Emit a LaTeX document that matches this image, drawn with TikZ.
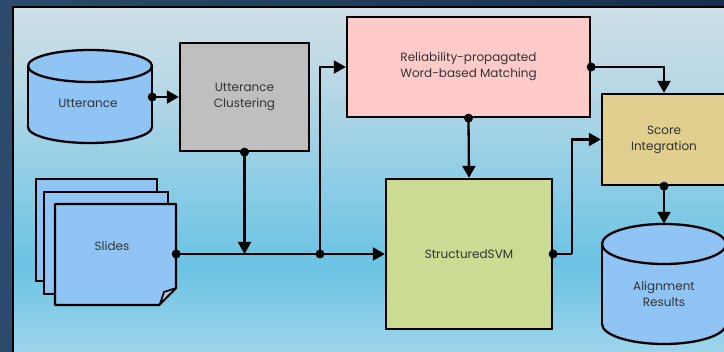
\documentclass[tikz,border=0pt]{standalone}
\usepackage{fontspec}
\setmainfont{Poppins}
\usetikzlibrary{arrows.meta}

\definecolor{framel}{HTML}{2C4A6B}
\definecolor{framer}{HTML}{172E4E}
\definecolor{paneltop}{HTML}{CFDFE7}
\definecolor{panelup}{HTML}{B3D6E5}
\definecolor{panelmid}{HTML}{8DCDE6}
\definecolor{panelblue}{HTML}{6BC3E3}
\definecolor{panelbot}{HTML}{A0D5EC}
\definecolor{docblue}{HTML}{90C4F4}
\definecolor{foldgray}{HTML}{A9C3D6}
\definecolor{clugray}{HTML}{BFBFBF}
\definecolor{relpink}{HTML}{FFCACA}
\definecolor{svmgreen}{HTML}{CCDB94}
\definecolor{scotan}{HTML}{E0CF8E}
\definecolor{txt}{HTML}{333333}

% vertical gradient of the inner panel (path is mapped onto 25bp..75bp)
\pgfdeclareverticalshading{panelshade}{100bp}{%
  color(0bp)=(panelbot); color(25bp)=(panelbot); color(38bp)=(panelblue);
  color(50bp)=(panelmid); color(62bp)=(panelup); color(75bp)=(paneltop);
  color(100bp)=(paneltop)}

\tikzset{
  lw/.style={line width=2.3pt},
  procbox/.style={lw, draw=black, rectangle, inner sep=0pt, align=center,
    text=txt, font=\fontsize{12}{16}\selectfont},
  frame/.style={inner sep=0pt, rectangle},
  lbl/.style={text=txt, align=center, font=\fontsize{12}{16}\selectfont},
  flow/.style={lw, draw=black, -{Triangle[length=12pt,width=13pt]}},
  link/.style={lw, draw=black},
  dot/.style={fill=black},
}

\newcommand{\cylshape}[5]{% cx, top ellipse cy, bottom ellipse cy, rx, ry
  \filldraw[lw, fill=docblue] (#1,#3) ellipse [x radius=#4, y radius=#5];
  \fill[docblue] (#1-#4,#2) rectangle (#1+#4,#3);
  \draw[lw] (#1-#4,#2) -- (#1-#4,#3) (#1+#4,#2) -- (#1+#4,#3);
  \filldraw[lw, fill=docblue] (#1,#2) ellipse [x radius=#4, y radius=#5];
}

\begin{document}
\begin{tikzpicture}[x=1pt, y=-1pt]
  \useasboundingbox (0,0) rectangle (724,352);
  \begin{scope}
    \clip (0,0) rectangle (724,352);
    % outer frame and inner panel
    \fill[left color=framel, right color=framer] (0,0) rectangle (724,352);
    \path[shading=panelshade, draw=black, line width=2pt] (13,7) rectangle (740,356);

    % Utterance cylinder
    \cylshape{90}{66}{127}{62}{16}
    \node[frame, minimum width=124pt, minimum height=94pt] (utt) at (90,97) {};
    \node[lbl] (utttext) at (88,103) {Utterance};

    % Slides: stacked pages with folded corner
    \filldraw[lw, fill=docblue] (36,179) rectangle (157,281);
    \filldraw[lw, fill=docblue] (44,192) rectangle (168,294);
    \filldraw[lw, fill=docblue, line join=round]
      (55,204) -- (176,204) -- (176,288) -- (159,305) -- (55,305) -- cycle;
    \filldraw[line width=1.6pt, fill=foldgray, line join=round]
      (176,288) -- (164,292) -- (160,304) -- cycle;
    \node[frame, minimum width=121pt, minimum height=100pt] (sl) at (115.5,254) {};
    \node[lbl] (sltext) at (112,246) {Slides};

    % processing boxes
    \node[procbox, fill=clugray, minimum width=129pt, minimum height=108pt]
      (clu) at (244.5,97) {Utterance\\Clustering};
    \node[procbox, fill=relpink, minimum width=243pt, minimum height=100pt]
      (rel) at (468.5,67) {Reliability-propagated\\Word-based Matching};
    \node[procbox, fill=svmgreen, minimum width=166pt, minimum height=150pt]
      (svm) at (469,254) {StructuredSVM};
    \node[procbox, fill=scotan, minimum width=124pt, minimum height=91pt]
      (sco) at (664,139.5) {Score\\Integration};

    % Alignment Results cylinder
    \cylshape{664}{244}{324}{62}{20}
    \node[frame, minimum width=124pt, minimum height=120pt] (res) at (664,284) {};
    \node[lbl] (restext) at (664,294) {Alignment\\Results};

    % connectors
    \coordinate (j) at (320,254);
    \coordinate (svmout) at (572,254);
    \draw[flow] (utt.east) -- (clu.west);
    \draw[flow] (clu.south) -- (clu.south |- sl.east);
    \draw[flow] (sl.east) -- (svm.west);
    \draw[flow] (j) |- (rel.west);
    \draw[flow] (rel.south) -- (svm.north);
    \draw[flow] (rel.east) -| (sco.north);
    \draw[link] (svm.east) -- (svmout);
    \draw[flow] (svmout) |- (sco.west);
    \draw[flow] (sco.south) -- (res.north);

    % junction dots
    \foreach \p in {utt.east, clu.south, sl.east, j, rel.south, rel.east, svm.east, sco.south}
      \fill[dot] (\p) circle (4.5);
  \end{scope}
\end{tikzpicture}
\end{document}
